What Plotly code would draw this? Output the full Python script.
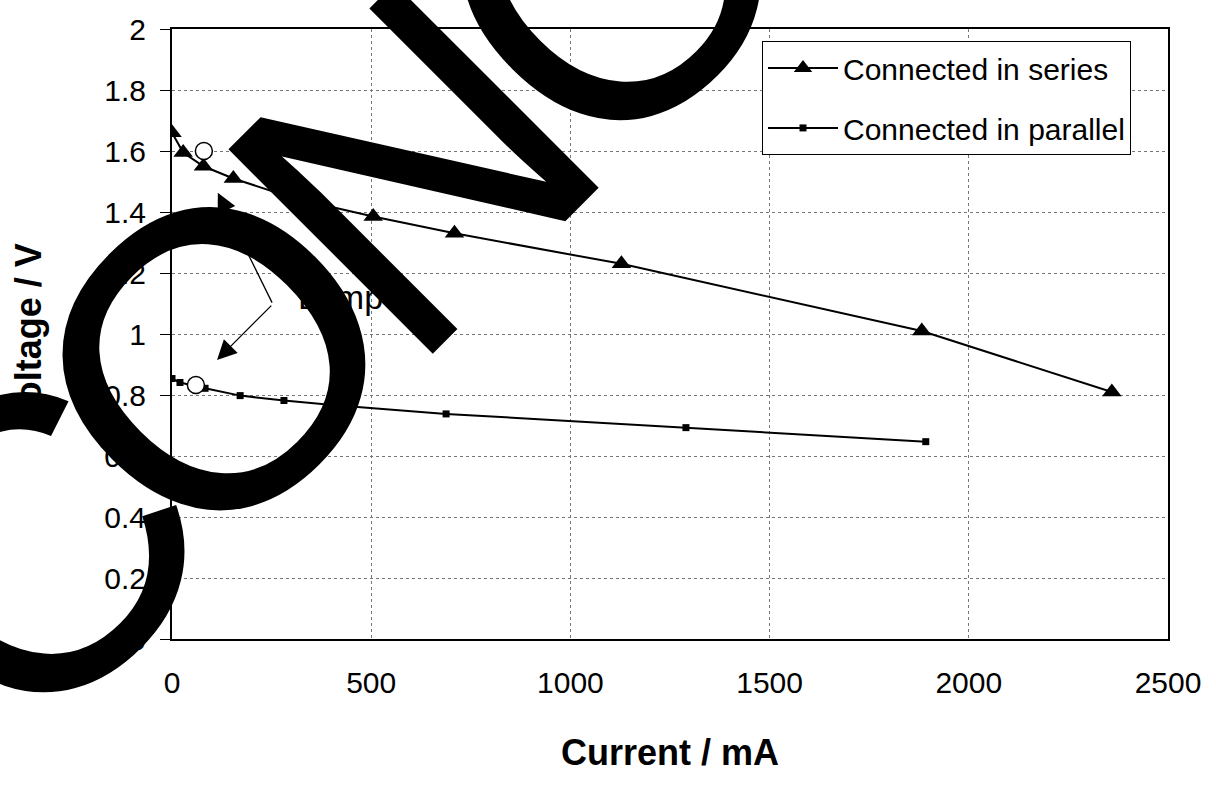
import plotly.graph_objects as go

# Cell voltage against drawn current
series_current = [0, 28, 79, 154, 305, 505, 709, 1128, 1882, 2359]
series_voltage = [1.66, 1.595, 1.55, 1.51, 1.445, 1.385, 1.33, 1.23, 1.01, 0.81]

parallel_current = [0, 20, 83, 171, 281, 410, 688, 1290, 1892]
parallel_voltage = [0.854, 0.841, 0.822, 0.798, 0.782, 0.766, 0.738, 0.693, 0.647]

# Operating points with the lamp connected
lamp_current = [80, 60]
lamp_voltage = [1.6, 0.833]

x_tick_vals = [0, 500, 1000, 1500, 2000, 2500]
y_tick_vals = [0, 0.2, 0.4, 0.6, 0.8, 1.0, 1.2, 1.4, 1.6, 1.8, 2.0]
y_tick_text = ["0", "0.2", "0.4", "0.6", "0.8", "1", "1.2", "1.4", "1.6", "1.8", "2"]

stamp_letters = ["C", "O", "N", "C"]

FONT = "Liberation Sans, Arial, sans-serif"

W, H = 1216, 787
M_L, M_R, M_T, M_B = 172, 48, 25, 148
PLOT_W = W - M_L - M_R
PLOT_H = H - M_T - M_B


def paper_xy(px, py):
    """Pixel position on the page -> paper coordinates of the plot area."""
    return (px - M_L) / PLOT_W, (H - M_B - py) / PLOT_H


fig = go.Figure()

fig.add_trace(go.Scatter(
    x=series_current, y=series_voltage, mode="lines+markers",
    name="Connected in series", legendgroup="a",
    line=dict(color="black", width=2),
    marker=dict(symbol="triangle-up", size=17, color="black"),
))
fig.add_trace(go.Scatter(
    x=parallel_current, y=parallel_voltage, mode="lines+markers",
    name="Connected in parallel", legendgroup="b",
    line=dict(color="black", width=2),
    marker=dict(symbol="square", size=7, color="black"),
))
fig.add_trace(go.Scatter(
    x=lamp_current, y=lamp_voltage, mode="markers", showlegend=False,
    marker=dict(symbol="circle", size=17, color="white",
                line=dict(color="black", width=1.5)),
))

# "Lamp" label with its two pointers
vertex = (253, 1.098)
arrow_tips = [(115, 1.463), (113, 0.915)]
for tx, ty in arrow_tips:
    fig.add_annotation(
        x=tx, y=ty, ax=vertex[0], ay=vertex[1], axref="x", ayref="y",
        xref="x", yref="y", text="", showarrow=True,
        arrowhead=2, arrowsize=3.0, arrowwidth=1.3, arrowcolor="black",
    )
fig.add_annotation(
    x=310, y=1.12, xref="x", yref="y", text="Lamp", showarrow=False,
    xanchor="left", yanchor="middle",
    font=dict(family=FONT, size=34, color="black"),
)

# Large diagonal lettering across the plot, one glyph at a time
start = (28, 549)
step = (192, -192)
nudge = [(0, 0), (-6, 0), (0, 0), (0, 0)]
for i, ch in enumerate(stamp_letters):
    px = start[0] + i * step[0] + nudge[i][0]
    py = start[1] + i * step[1] + nudge[i][1]
    ax_, ay_ = paper_xy(px, py)
    fig.add_annotation(
        x=ax_, y=ay_, xref="paper", yref="paper", text=ch,
        showarrow=False, textangle=-45, xanchor="center", yanchor="middle",
        font=dict(family=FONT, size=420, color="black"),
    )

fig.update_xaxes(
    range=[0, 2500], tickvals=x_tick_vals, ticks="",
    showgrid=True, gridcolor="#777", griddash="dot", gridwidth=1,
    showline=True, linecolor="black", linewidth=2, mirror=True,
    tickfont=dict(family=FONT, size=30, color="black"),
    ticklabelstandoff=16,
    title=dict(text="<b>Current / mA</b>", standoff=42,
               font=dict(family=FONT, size=36, color="black")),
    zeroline=False,
)
fig.update_yaxes(
    range=[0, 2], tickvals=y_tick_vals, ticktext=y_tick_text,
    ticks="outside", ticklen=10, tickcolor="black", tickwidth=1,
    showgrid=True, gridcolor="#777", griddash="dot", gridwidth=1,
    showline=True, linecolor="black", linewidth=2, mirror=True,
    tickfont=dict(family=FONT, size=30, color="black"),
    ticklabelstandoff=8,
    title=dict(text="<b>Voltage / V</b>", standoff=52,
               font=dict(family=FONT, size=36, color="black")),
    zeroline=False,
)

lx, ly = paper_xy(762, 37)
fig.update_layout(
    width=W, height=H,
    margin=dict(l=M_L, r=M_R, t=M_T, b=M_B),
    paper_bgcolor="white", plot_bgcolor="white",
    showlegend=True,
    legend=dict(
        x=lx, y=ly, xanchor="left", yanchor="top",
        bgcolor="white", bordercolor="black", borderwidth=1,
        font=dict(family=FONT, size=30, color="black"),
        tracegroupgap=18, itemwidth=70, entrywidth=432,
    ),
)

fig.write_html("out.html")
